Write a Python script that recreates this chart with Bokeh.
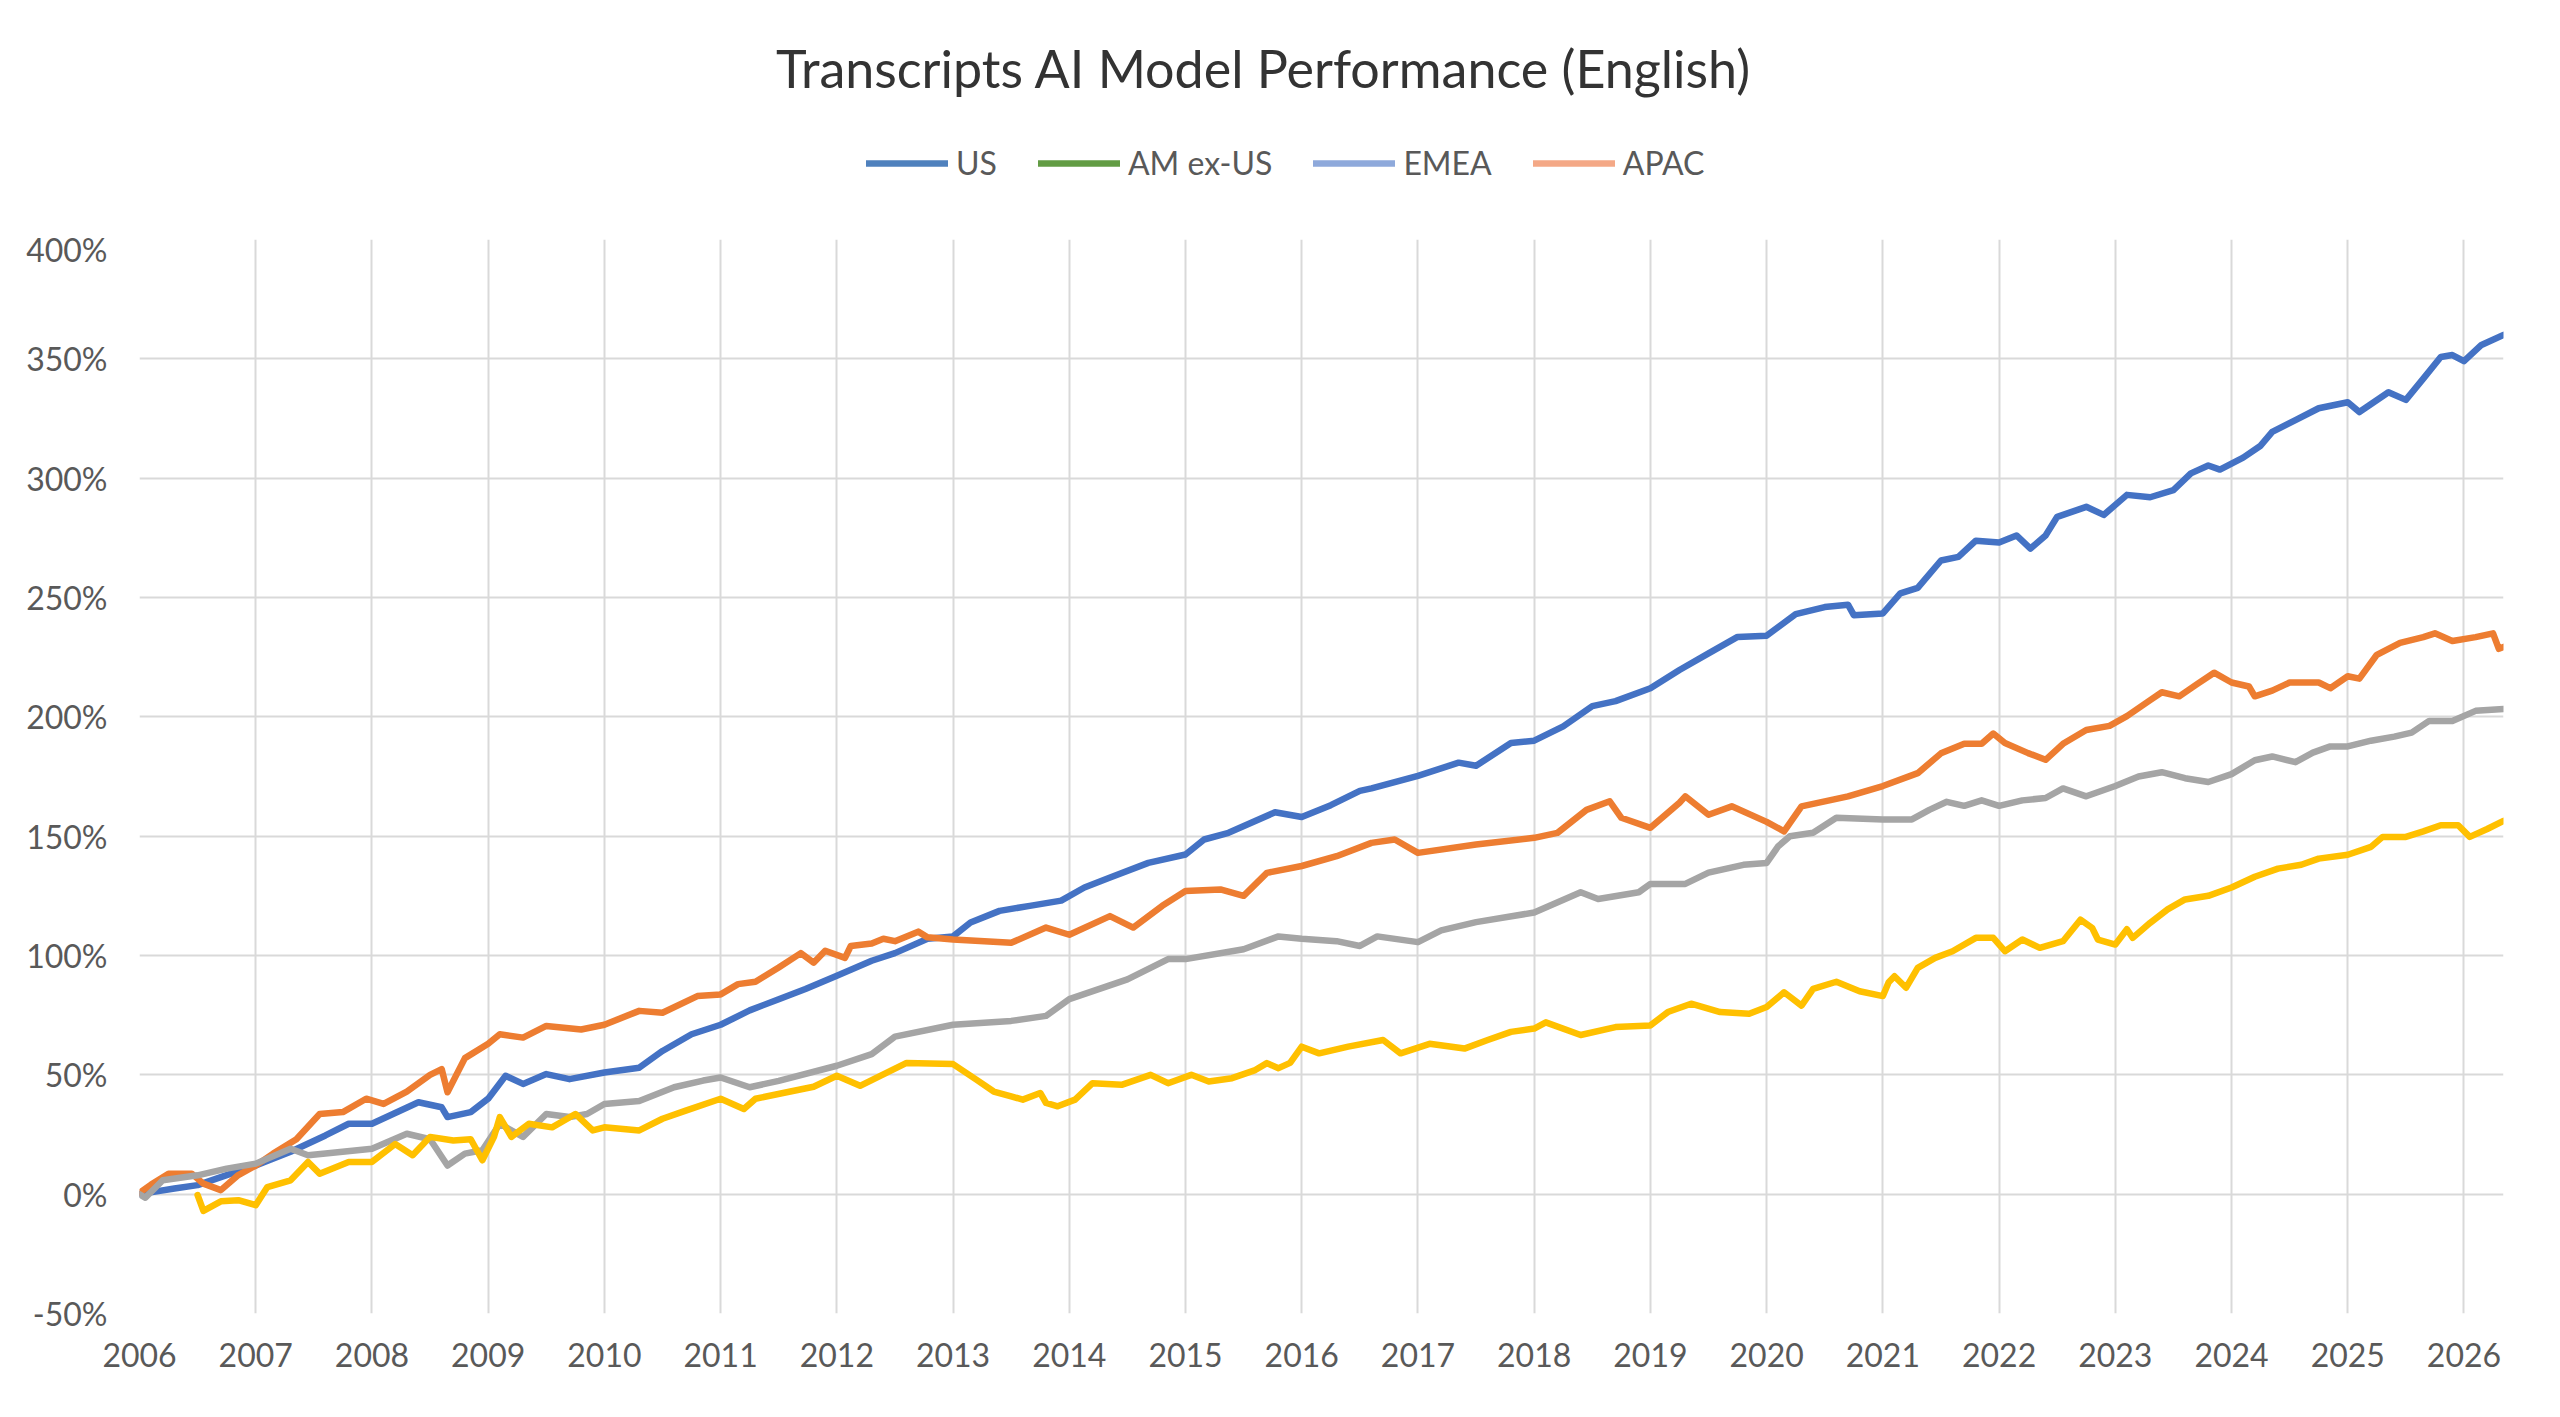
from bokeh.plotting import figure
from bokeh.layouts import column
from bokeh.models import (Range1d, FixedTicker, Legend, LegendItem, Label,
                          ColumnDataSource)
from bokeh.embed import file_html
from bokeh.resources import INLINE

# ---------------- data (decimal years, cumulative % performance) ----------------
us_x = [2006.0, 2006.3, 2006.5, 2006.75, 2007.0, 2007.3, 2007.6, 2007.8, 2008.0, 2008.2,
        2008.4, 2008.6, 2008.65, 2008.85, 2009.0, 2009.15, 2009.3, 2009.5, 2009.7, 2010.0,
        2010.3, 2010.5, 2010.75, 2011.0, 2011.25, 2011.5, 2011.73, 2012.0, 2012.3, 2012.5,
        2012.78, 2013.0, 2013.15, 2013.4, 2013.66, 2013.93, 2014.13, 2014.34, 2014.68, 2015.0,
        2015.16, 2015.37, 2015.77, 2016.0, 2016.25, 2016.5, 2016.6, 2017.0, 2017.35, 2017.5,
        2017.8, 2018.0, 2018.25, 2018.5, 2018.7, 2019.0, 2019.25, 2019.5, 2019.75, 2020.0,
        2020.25, 2020.5, 2020.7, 2020.75, 2021.0, 2021.15, 2021.3, 2021.5, 2021.65, 2021.8,
        2022.0, 2022.15, 2022.27, 2022.4, 2022.5, 2022.75, 2022.9, 2023.1, 2023.3, 2023.5,
        2023.65, 2023.8, 2023.9, 2024.1, 2024.25, 2024.35, 2024.55, 2024.75, 2025.0, 2025.1,
        2025.35, 2025.5, 2025.65, 2025.8, 2025.9, 2026.0, 2026.15, 2026.34]
us_y = [0, 2.4, 3.8, 8, 12, 17.8, 24.6, 29.5, 29.5, 34,
        38.5, 36.4, 32.3, 34.4, 40, 49.6, 46.2, 50.3, 48.2, 51,
        53, 60, 67, 71, 77, 81.7, 86, 91.5, 97.8, 101,
        107, 108, 113.8, 118.7, 120.8, 123, 128.5, 132.5, 138.8, 142.3,
        148.6, 151.4, 160, 158, 163, 169, 170, 175.3, 180.8, 179.5,
        189, 190, 196, 204.5, 206.6, 212, 219.6, 226.6, 233.5, 234,
        243, 246, 247, 242.6, 243.3, 251.7, 254, 265.5, 267, 273.8,
        273, 276, 270.5, 276, 283.8, 288, 284.6, 293, 292, 295,
        302, 305.3, 303.6, 308.6, 313.6, 319.4, 324.3, 329.3, 331.8, 327.7,
        336, 332.8, 341.7, 350.8, 351.6, 349, 355.8, 360]

orange_x = [2006.0, 2006.1, 2006.25, 2006.45, 2006.55, 2006.7, 2006.85, 2007.0, 2007.15, 2007.35,
            2007.55, 2007.75, 2007.95, 2008.1, 2008.3, 2008.5, 2008.6, 2008.65, 2008.8, 2009.0,
            2009.1, 2009.3, 2009.5, 2009.8, 2010.0, 2010.3, 2010.5, 2010.8, 2011.0, 2011.15,
            2011.3, 2011.5, 2011.69, 2011.8, 2011.9, 2012.07, 2012.12, 2012.3, 2012.4, 2012.5,
            2012.7, 2012.78, 2013.0, 2013.5, 2013.8, 2014.0, 2014.35, 2014.55, 2014.8, 2015.0,
            2015.3, 2015.5, 2015.7, 2016.0, 2016.3, 2016.6, 2016.8, 2017.0, 2017.5, 2018.0,
            2018.2, 2018.45, 2018.65, 2018.75, 2019.0, 2019.25, 2019.3, 2019.5, 2019.7, 2020.0,
            2020.15, 2020.3, 2020.5, 2020.7, 2021.0, 2021.3, 2021.5, 2021.7, 2021.85, 2021.95,
            2022.05, 2022.25, 2022.4, 2022.55, 2022.75, 2022.95, 2023.1, 2023.3, 2023.4, 2023.55,
            2023.7, 2023.85, 2024.0, 2024.15, 2024.2, 2024.35, 2024.5, 2024.75, 2024.85, 2025.0,
            2025.1, 2025.25, 2025.45, 2025.65, 2025.75, 2025.9, 2026.1, 2026.25, 2026.3, 2026.34]
orange_y = [0.5, 4, 8.6, 8.6, 4.4, 1.7, 8, 12, 17, 23,
            33.6, 34.4, 40, 37.8, 43, 50, 52.4, 42.7, 57, 63,
            67, 65.6, 70.5, 69, 71, 76.8, 76, 83, 83.7, 88,
            89, 95, 101, 97, 102, 99, 104, 105, 107, 106,
            110, 107.6, 106.7, 105.3, 111.7, 108.7, 116.5, 111.7, 120.8, 127,
            127.7, 125, 134.6, 137.5, 141.6, 147.2, 148.6, 143, 146.5, 149.3,
            151.4, 161, 164.6, 157.7, 153.5, 164, 166.7, 159, 162.5, 156,
            152, 162.5, 164.6, 166.7, 171, 176.4, 184.7, 188.7, 188.7, 193,
            189, 184.8, 182, 188.7, 194.5, 196.2, 200.3, 207, 210.3, 208.6,
            213.6, 218.5, 214.4, 212.7, 208.6, 211, 214.4, 214.4, 212, 217,
            216, 226, 231, 233.4, 235, 231.8, 233.4, 235, 228.5, 229.3]

gray_x = [2006.0, 2006.05, 2006.2, 2006.5, 2006.75, 2007.0, 2007.3, 2007.45, 2007.6, 2008.0,
          2008.3, 2008.5, 2008.65, 2008.8, 2008.95, 2009.1, 2009.3, 2009.5, 2009.7, 2009.85,
          2010.0, 2010.3, 2010.6, 2010.85, 2011.0, 2011.25, 2011.5, 2012.0, 2012.3, 2012.5,
          2013.0, 2013.5, 2013.8, 2014.0, 2014.5, 2014.85, 2015.0, 2015.5, 2015.8, 2016.0,
          2016.3, 2016.5, 2016.65, 2017.0, 2017.2, 2017.5, 2018.0, 2018.4, 2018.55, 2018.9,
          2019.0, 2019.3, 2019.5, 2019.8, 2020.0, 2020.1, 2020.2, 2020.4, 2020.6, 2021.0,
          2021.25, 2021.4, 2021.55, 2021.7, 2021.85, 2022.0, 2022.2, 2022.4, 2022.55, 2022.75,
          2023.0, 2023.2, 2023.4, 2023.6, 2023.8, 2024.0, 2024.2, 2024.35, 2024.55, 2024.7,
          2024.85, 2025.0, 2025.2, 2025.4, 2025.55, 2025.7, 2025.9, 2026.1, 2026.34]
gray_y = [0, -1.5, 5.8, 7.9, 10.7, 12.8, 19, 16.3, 17, 19,
          25.3, 23, 12, 17, 18.4, 29.5, 24, 33.6, 32.3, 33.6,
          37.8, 39, 44.8, 47.6, 48.9, 44.8, 47.5, 53.8, 58.7, 66,
          71, 72.6, 74.7, 81.7, 90, 98.5, 98.5, 102.6, 108, 107,
          106, 104, 108, 105.6, 110.5, 114, 118, 126.5, 123.7, 126.5,
          130, 130, 134.7, 138, 138.8, 145.8, 150, 151.4, 157.7, 157,
          157, 161, 164.4, 162.7, 165, 162.7, 165, 166, 170, 166.7,
          171, 175, 176.8, 174.3, 172.7, 176, 181.8, 183.4, 181, 185,
          187.6, 187.6, 190, 191.7, 193.4, 198.3, 198.3, 202.5, 203.3]

yellow_x = [2006.5, 2006.55, 2006.7, 2006.85, 2007.0, 2007.1, 2007.3, 2007.45, 2007.55, 2007.8,
            2008.0, 2008.2, 2008.35, 2008.5, 2008.7, 2008.85, 2008.95, 2009.05, 2009.1, 2009.2,
            2009.35, 2009.55, 2009.75, 2009.9, 2010.0, 2010.3, 2010.5, 2010.7, 2011.0, 2011.2,
            2011.3, 2011.6, 2011.8, 2012.0, 2012.2, 2012.6, 2013.0, 2013.2, 2013.35, 2013.5,
            2013.6, 2013.75, 2013.8, 2013.9, 2014.05, 2014.2, 2014.45, 2014.7, 2014.85, 2015.05,
            2015.2, 2015.4, 2015.6, 2015.7, 2015.8, 2015.9, 2016.0, 2016.15, 2016.4, 2016.7,
            2016.85, 2017.1, 2017.4, 2017.6, 2017.8, 2018.0, 2018.1, 2018.4, 2018.7, 2019.0,
            2019.15, 2019.35, 2019.6, 2019.85, 2020.0, 2020.15, 2020.3, 2020.4, 2020.6, 2020.8,
            2021.0, 2021.05, 2021.1, 2021.2, 2021.3, 2021.45, 2021.6, 2021.8, 2021.95, 2022.05,
            2022.2, 2022.35, 2022.55, 2022.7, 2022.8, 2022.85, 2023.0, 2023.1, 2023.15, 2023.3,
            2023.45, 2023.6, 2023.8, 2024.0, 2024.2, 2024.4, 2024.6, 2024.75, 2025.0, 2025.2,
            2025.3, 2025.5, 2025.65, 2025.8, 2025.95, 2026.05, 2026.2, 2026.34]
yellow_y = [-0.4, -7, -3, -2.5, -4.6, 3, 5.8, 13.5, 8.6, 13.5,
            13.5, 21, 16.3, 24, 22.5, 23, 14.2, 24, 32.3, 24,
            29.5, 28, 33.6, 26.7, 28, 26.7, 31.6, 35, 40, 35.7,
            40, 43, 45, 49.6, 45.4, 55, 54.5, 48, 43, 41,
            39.6, 42.4, 38.2, 36.8, 39.6, 46.5, 45.8, 50, 46.5, 50,
            47.2, 48.6, 52, 54.9, 52.8, 55, 61.8, 59, 61.8, 64.6,
            59, 63, 61, 64.6, 68, 69.4, 72, 66.7, 70, 70.7,
            76.3, 79.8, 76.3, 75.6, 78.4, 84.6, 79, 86, 89, 85,
            83, 88.8, 91.3, 86.5, 94.8, 99, 101.8, 107.4, 107.4, 101.8,
            106.7, 103.2, 106, 115, 111.6, 106.7, 104.6, 111, 107.4, 113.7,
            119.3, 123.5, 125, 128.5, 133, 136.4, 138, 140.6, 142.2, 145.5,
            149.7, 149.7, 152, 154.6, 154.6, 149.7, 153, 156.4]

legend_labels = ["US", "AM ex-US", "EMEA", "APAC"]
legend_colors = ["#4F81BD", "#629C44", "#8EA9DB", "#F4A886"]
line_colors = ["#4472C4", "#ED7D31", "#A5A5A5", "#FFC000"]

year_ticks = list(range(2006, 2027))
year_labels = [str(y) for y in year_ticks]
pct_ticks = list(range(-50, 401, 50))
pct_labels = ["%d%%" % v for v in pct_ticks]

title_text = "Transcripts AI Model  Performance (English)"

FONT = "Lato"
W = 2544
HEAD_H = 229

# ---------------- header: title + legend ----------------
head = figure(width=W, height=HEAD_H, output_backend="svg", toolbar_location=None,
              x_range=Range1d(0, 1), y_range=Range1d(0, 1),
              x_axis_type=None, y_axis_type=None,
              min_border_left=0, min_border_right=0, min_border_top=0, min_border_bottom=0)
head.outline_line_color = None
head.grid.visible = False
head.background_fill_color = "white"
head.border_fill_color = "white"

nan = float("nan")
items = []
for lab, c in zip(legend_labels, legend_colors):
    r = head.line(x="x", y="y", source=ColumnDataSource(dict(x=[nan], y=[nan])),
                  line_color=c, line_width=6.5, line_cap="round")
    items.append(LegendItem(label=lab, renderers=[r]))

# the column layout aligns this header's frame with the chart frame (left border 139 px)
legend = Legend(items=items, orientation="horizontal",
                location=(727, 47),
                glyph_width=82, glyph_height=34, label_height=34,
                label_standoff=8, spacing=41, padding=0, margin=0,
                border_line_color=None, background_fill_alpha=0,
                label_text_font=FONT, label_text_font_size="32px",
                label_text_color="#595959", label_text_baseline="middle")
head.add_layout(legend)

title = Label(x=1131, y=162, x_units="screen", y_units="screen",
              text=title_text, text_align="center", text_baseline="alphabetic",
              text_font=FONT, text_font_size="52px", text_color="#333333")
head.add_layout(title)

# ---------------- main chart ----------------
BL, BR, BT, BB = 139, 41, 10, 87
H = 1400 - HEAD_H

p = figure(width=W, height=H, output_backend="svg", toolbar_location=None,
           x_range=Range1d(2006, 2026.34), y_range=Range1d(-50, 400),
           min_border_left=BL, min_border_right=BR, min_border_top=BT,
           min_border_bottom=BB)
p.outline_line_color = None
p.background_fill_color = "white"
p.border_fill_color = "white"

for ax, ticks, labels in ((p.xaxis, year_ticks, year_labels), (p.yaxis, pct_ticks, pct_labels)):
    ax.ticker = FixedTicker(ticks=ticks)
    ax.major_label_overrides = {t: l for t, l in zip(ticks, labels)}
    ax.axis_line_color = None
    ax.major_tick_line_color = None
    ax.minor_tick_line_color = None
    ax.major_tick_out = 0
    ax.major_tick_in = 0
    ax.major_label_text_font = FONT
    ax.major_label_text_font_size = "32px"
    ax.major_label_text_color = "#595959"
p.xaxis.major_label_standoff = 29
p.yaxis.major_label_standoff = 32

p.xgrid.ticker = FixedTicker(ticks=year_ticks)
p.ygrid.ticker = FixedTicker(ticks=pct_ticks)
for g in (p.xgrid, p.ygrid):
    g.grid_line_color = "#D9D9D9"
    g.grid_line_width = 2

series = [(us_x, us_y), (orange_x, orange_y), (gray_x, gray_y), (yellow_x, yellow_y)]
for (xs, ys), c in zip(series, line_colors):
    p.line(xs, ys, line_color=c, line_width=6.5, line_join="round", line_cap="round")

layout = column(head, p, spacing=0)
open("out.html", "w").write(file_html(layout, INLINE))
